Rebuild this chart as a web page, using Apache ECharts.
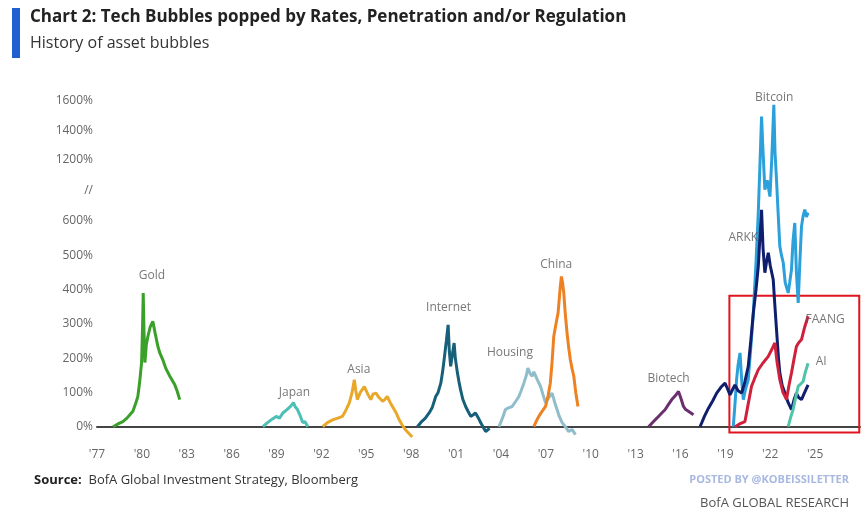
<!DOCTYPE html>
<html><head><meta charset="utf-8">
<script src="https://cdn.jsdelivr.net/npm/echarts@6/dist/echarts.min.js"></script>
<style>body{margin:0;background:#fff}#c{width:863px;height:527px}</style></head>
<body><div id="c"></div>
<script>
// [year, % gain]
const gold=[[1978.07,0],[1978.4,8],[1978.73,15],[1979.0,25],[1979.2,35],[1979.4,45],[1979.6,70],[1979.73,88],[1979.85,130],[1979.98,187],[1980.05,300],[1980.09,390],[1980.14,280],[1980.2,187],[1980.3,240],[1980.4,263],[1980.55,290],[1980.73,307],[1980.9,270],[1981.07,234],[1981.2,215],[1981.4,195],[1981.6,170],[1981.87,147],[1982.0,150],[1982.2,122],[1982.35,105],[1982.53,79]];
const japan=[[1988.09,0],[1988.4,12],[1988.7,22],[1988.98,30],[1989.2,25],[1989.42,40],[1989.7,50],[1989.95,60],[1990.13,70],[1990.25,58],[1990.4,50],[1990.6,30],[1990.75,12],[1990.9,15],[1991.09,0]];
const asia=[[1992.09,0],[1992.4,12],[1992.75,20],[1993.1,25],[1993.4,30],[1993.6,45],[1993.87,70],[1994.05,100],[1994.2,137],[1994.3,105],[1994.4,79],[1994.6,100],[1994.87,117],[1995.1,95],[1995.3,79],[1995.45,95],[1995.64,98],[1995.85,85],[1996.09,74],[1996.25,80],[1996.4,88],[1996.6,70],[1996.75,59],[1997.0,40],[1997.2,20],[1997.4,5],[1997.6,-8],[1997.85,-20],[1998.07,-30]];
const internet=[[1998.42,0],[1998.7,15],[1998.95,25],[1999.2,40],[1999.4,55],[1999.64,88],[1999.8,100],[1999.98,127],[2000.1,160],[2000.2,195],[2000.35,250],[2000.47,297],[2000.55,220],[2000.64,176],[2000.75,210],[2000.87,244],[2000.95,200],[2001.09,157],[2001.2,130],[2001.3,108],[2001.45,80],[2001.64,59],[2001.8,45],[2001.98,30],[2002.15,35],[2002.3,40],[2002.5,25],[2002.64,12],[2002.8,0],[2002.98,-14],[2003.24,-5]];
const housing=[[2003.87,0],[2004.1,25],[2004.3,50],[2004.5,55],[2004.75,59],[2005.0,75],[2005.2,88],[2005.35,105],[2005.53,127],[2005.7,150],[2005.8,171],[2005.95,155],[2006.09,147],[2006.2,160],[2006.3,157],[2006.45,135],[2006.64,118],[2006.8,95],[2006.98,70],[2007.2,85],[2007.42,98],[2007.6,70],[2007.75,50],[2007.9,30],[2008.09,12],[2008.3,0],[2008.53,-14],[2008.75,-8],[2008.98,-23]];
const china=[[2006.2,0],[2006.35,15],[2006.53,30],[2006.75,45],[2006.98,59],[2007.15,90],[2007.3,127],[2007.42,190],[2007.53,263],[2007.68,300],[2007.82,332],[2007.95,400],[2008.04,438],[2008.12,420],[2008.2,390],[2008.3,330],[2008.42,273],[2008.53,230],[2008.64,195],[2008.75,170],[2008.87,147],[2009.0,100],[2009.15,59]];
const biotech=[[2013.87,0],[2014.2,15],[2014.53,30],[2014.75,40],[2014.98,50],[2015.2,65],[2015.42,79],[2015.65,90],[2015.87,103],[2016.05,80],[2016.2,59],[2016.35,50],[2016.53,45],[2016.7,40],[2016.87,35]];
const arkk=[[2017.31,0],[2017.6,30],[2017.87,54],[2018.15,75],[2018.42,98],[2018.7,115],[2018.98,127],[2019.15,110],[2019.31,93],[2019.5,110],[2019.64,122],[2019.85,105],[2020.09,98],[2020.3,130],[2020.53,176],[2020.7,250],[2020.87,332],[2021.05,400],[2021.2,467],[2021.32,560],[2021.42,708],[2021.52,520],[2021.64,449],[2021.75,480],[2021.87,507],[2022.0,470],[2022.2,429],[2022.3,360],[2022.42,283],[2022.55,200],[2022.64,157],[2022.8,120],[2022.98,98],[2023.2,70],[2023.42,50],[2023.6,80],[2023.75,98],[2023.9,85],[2024.09,79],[2024.3,100],[2024.53,122]];
const bitcoin=[[2019.53,0],[2019.65,70],[2019.75,137],[2019.85,180],[2019.98,215],[2020.1,130],[2020.2,79],[2020.35,110],[2020.53,137],[2020.7,230],[2020.87,332],[2021.05,480],[2021.2,680],[2021.3,1100],[2021.42,1494],[2021.5,1300],[2021.64,906],[2021.8,1000],[2021.98,839],[2022.1,1200],[2022.24,1573],[2022.32,1250],[2022.42,1004],[2022.52,700],[2022.64,526],[2022.75,500],[2022.87,478],[2023.0,420],[2023.2,390],[2023.3,420],[2023.42,458],[2023.52,540],[2023.64,594],[2023.75,450],[2023.87,361],[2023.98,480],[2024.09,584],[2024.2,650],[2024.31,711],[2024.42,640],[2024.53,681]];
const faang=[[2019.64,0],[2019.95,8],[2020.31,15],[2020.5,60],[2020.75,118],[2020.95,140],[2021.2,166],[2021.5,185],[2021.87,205],[2022.1,225],[2022.31,244],[2022.45,190],[2022.64,137],[2022.85,100],[2023.09,79],[2023.25,120],[2023.42,157],[2023.6,200],[2023.75,234],[2023.9,245],[2024.09,254],[2024.3,290],[2024.53,322]];
const ai=[[2023.2,0],[2023.35,25],[2023.53,50],[2023.7,85],[2023.87,118],[2024.05,125],[2024.2,132],[2024.35,160],[2024.53,185]];
const labels=[["Gold",1980.67,440],["Japan",1990.2,99],["Asia",1994.5,166],["Internet",2000.5,347],["Housing",2004.6,216],["China",2007.7,472],["Biotech",2015.2,140],["ARKK",2020.2,551],["Bitcoin",2022.27,1620],["FAANG",2025.67,312],["AI",2025.4,190]];
const yTicks=[0,100,200,300,400,500,600,1200,1400,1600];

function tf(v){ if(v<=600) return v; if(v<=1200) return 600+(v-600)*0.297; return 778+(v-1200)*0.43; }
function inv(t){ if(t<=600) return t; if(t<=778) return 600+(t-600)/0.297; return 1200+(t-778)/0.43; }
const breakT=689;
const mk=(name,data,color)=>({type:'line',name,data:data.map(p=>[p[0],tf(p[1])]),showSymbol:false,lineStyle:{width:3,color},itemStyle:{color},z:3});
const series=[
 mk('Gold',gold,'#3aa02a'),mk('Japan',japan,'#4dbfb5'),mk('Asia',asia,'#e9a82a'),
 mk('Internet',internet,'#17607a'),mk('Housing',housing,'#8fbdca'),mk('China',china,'#ee8122'),
 mk('Biotech',biotech,'#6b2f6e'),mk('Bitcoin',bitcoin,'#2ba0da'),mk('ARKK',arkk,'#101f6d'),
 mk('FAANG',faang,'#d0213c'),mk('AI',ai,'#50c4a8'),
 {type:'scatter',data:labels.map(l=>[l[1],tf(l[2]),l[0]]),symbolSize:0,silent:true,
  label:{show:true,formatter:p=>p.data[2],color:'#555',fontSize:12,fontFamily:'Open Sans'},z:5},
 {type:'line',data:[],markArea:{silent:true,itemStyle:{color:'rgba(0,0,0,0)',borderColor:'#e0141e',borderWidth:2},
   data:[[{coord:[2019.27,tf(382)]},{coord:[2027.95,-17]}]]}}
];
const ch=echarts.init(document.getElementById('c'));
ch.setOption({
 animation:false,
 textStyle:{fontFamily:'Open Sans'},
 grid:{left:97,right:0,top:94,bottom:90},
 xAxis:{type:'value',min:1977,max:2028,interval:3,
  axisLine:{onZero:true,lineStyle:{color:'#444',width:2}},
  axisTick:{show:false},splitLine:{show:false},
  axisLabel:{formatter:v=>v>=2028?'':"'"+String(v%100).padStart(2,'0'),color:'#666',fontSize:12,margin:12}},
 yAxis:{type:'value',min:-30,max:970,
  axisLine:{show:false},axisTick:{show:false},splitLine:{show:false},
  axisLabel:{customValues:yTicks.map(tf).concat([breakT]),color:'#666',fontSize:12,margin:4,
   formatter:v=>Math.abs(v-breakT)<1?'//':Math.round(inv(v))+'%'}},
 graphic:[
  {type:'rect',shape:{x:12,y:8,width:8,height:50},style:{fill:'#1f5fd0'}},
  {type:'text',left:30,top:9,style:{text:'Chart 2: Tech Bubbles popped by Rates, Penetration and/or Regulation',font:'bold 17px "Open Sans"',fill:'#222'}},
  {type:'text',left:30,top:35,style:{text:'History of asset bubbles',font:'16px "Open Sans"',fill:'#333'}},
  {type:'text',left:34,top:474,style:{rich:{b:{font:'bold 13px "Open Sans"',fill:'#222'},n:{font:'13px "Open Sans"',fill:'#333'}},text:'{b|Source:}{n|  BofA Global Investment Strategy, Bloomberg}'}},
  {type:'text',right:14,top:474,style:{text:'POSTED BY @KOBEISSILETTER',font:'bold 11px "Open Sans"',fill:'#a8b8e0'}},
  {type:'text',right:14,top:497,style:{text:'BofA GLOBAL RESEARCH',font:'13px "Open Sans"',fill:'#555'}}
 ],
 series
});
</script></body></html>
